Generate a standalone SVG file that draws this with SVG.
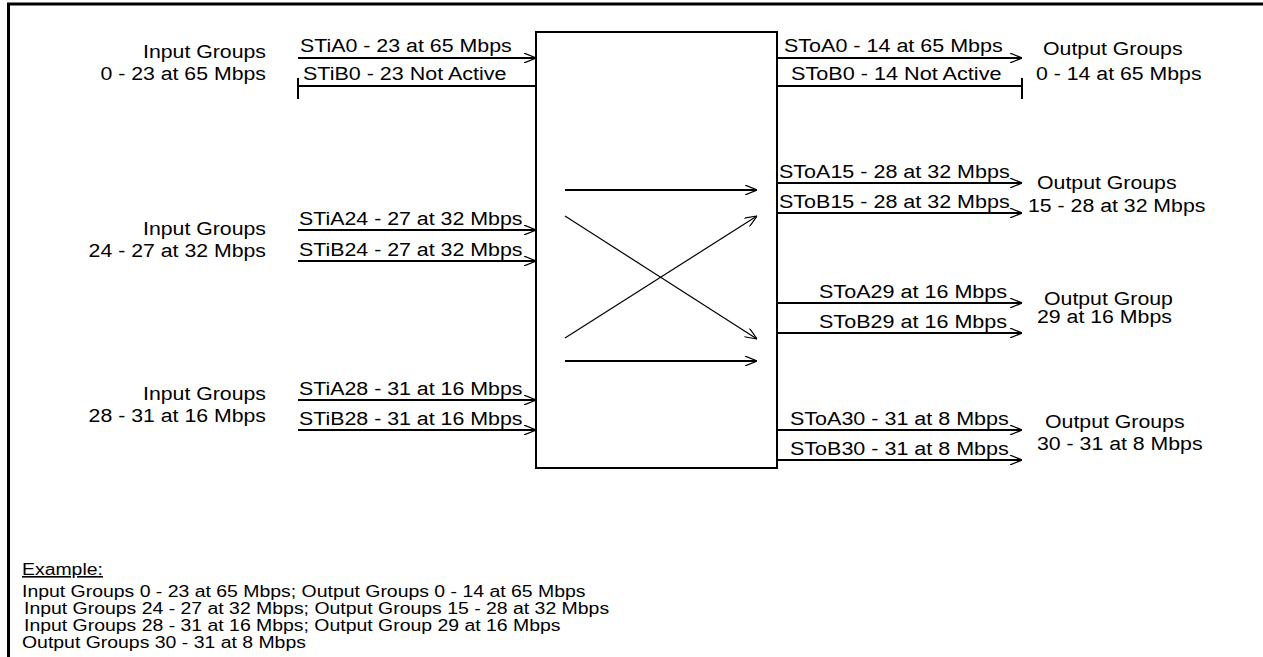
<svg xmlns="http://www.w3.org/2000/svg" width="1263" height="657" viewBox="0 0 1263 657">
<style>
.t{font-family:"Liberation Sans",Arial,sans-serif;font-size:18px;fill:#000}
.s{font-family:"Liberation Sans",Arial,sans-serif;font-size:16px;fill:#000}
.ln{stroke:#000;stroke-width:2;fill:none}
.th{stroke:#000;stroke-width:1.2;fill:none}
</style>
<defs>
<marker id="ah" viewBox="0 0 12 10" refX="12" refY="5" markerWidth="12" markerHeight="10" markerUnits="userSpaceOnUse" orient="auto">
<path d="M0,0 L12,5 L0,10" fill="none" stroke="#000" stroke-width="1.2"/>
</marker>
</defs>
<rect width="1263" height="657" fill="#fff"/>
<path d="M8.5,657 V4 H1263" fill="none" stroke="#000" stroke-width="3"/>

<g id="switch">
<rect x="536" y="32" width="241" height="436" fill="none" stroke="#000" stroke-width="2"/>
</g>

<g id="in-0-23">
<text class="t" x="266" y="58" text-anchor="end" textLength="123" lengthAdjust="spacingAndGlyphs">Input Groups</text>
<text class="t" x="266" y="80" text-anchor="end" textLength="165.6" lengthAdjust="spacingAndGlyphs">0 - 23 at 65 Mbps</text>
</g>
<g id="in-24-27">
<text class="t" x="266" y="235" text-anchor="end" textLength="123" lengthAdjust="spacingAndGlyphs">Input Groups</text>
<text class="t" x="266" y="257" text-anchor="end" textLength="177.4" lengthAdjust="spacingAndGlyphs">24 - 27 at 32 Mbps</text>
</g>
<g id="in-28-31">
<text class="t" x="266" y="400" text-anchor="end" textLength="123" lengthAdjust="spacingAndGlyphs">Input Groups</text>
<text class="t" x="266" y="422" text-anchor="end" textLength="177.4" lengthAdjust="spacingAndGlyphs">28 - 31 at 16 Mbps</text>
</g>

<g id="out-0-14">
<text class="t" x="1043" y="55" textLength="139.6" lengthAdjust="spacingAndGlyphs">Output Groups</text>
<text class="t" x="1036" y="80" textLength="165.6" lengthAdjust="spacingAndGlyphs">0 - 14 at 65 Mbps</text>
</g>
<g id="out-15-28">
<text class="t" x="1037" y="189" textLength="139.6" lengthAdjust="spacingAndGlyphs">Output Groups</text>
<text class="t" x="1028" y="212" textLength="177.4" lengthAdjust="spacingAndGlyphs">15 - 28 at 32 Mbps</text>
</g>
<g id="out-29">
<text class="t" x="1044" y="305" textLength="128.9" lengthAdjust="spacingAndGlyphs">Output Group</text>
<text class="t" x="1037" y="323" textLength="134.9" lengthAdjust="spacingAndGlyphs">29 at 16 Mbps</text>
</g>
<g id="out-30-31">
<text class="t" x="1045" y="428" textLength="139.6" lengthAdjust="spacingAndGlyphs">Output Groups</text>
<text class="t" x="1037" y="450" textLength="165.6" lengthAdjust="spacingAndGlyphs">30 - 31 at 8 Mbps</text>
</g>

<g id="connectors">
<line class="ln" x1="298" y1="58" x2="536" y2="58" marker-end="url(#ah)"/>
<text class="t" x="300" y="52" textLength="211.7" lengthAdjust="spacingAndGlyphs">STiA0 - 23 at 65 Mbps</text>
<line class="ln" x1="298" y1="86" x2="536" y2="86"/>
<line class="ln" x1="298" y1="78" x2="298" y2="99"/>
<text class="t" x="303" y="80" textLength="203.4" lengthAdjust="spacingAndGlyphs">STiB0 - 23 Not Active</text>

<line class="ln" x1="298" y1="230" x2="536" y2="230" marker-end="url(#ah)"/>
<text class="t" x="299" y="225" textLength="223.5" lengthAdjust="spacingAndGlyphs">STiA24 - 27 at 32 Mbps</text>
<line class="ln" x1="298" y1="261" x2="536" y2="261" marker-end="url(#ah)"/>
<text class="t" x="299" y="256" textLength="223.5" lengthAdjust="spacingAndGlyphs">STiB24 - 27 at 32 Mbps</text>

<line class="ln" x1="298" y1="400" x2="536" y2="400" marker-end="url(#ah)"/>
<text class="t" x="299" y="395" textLength="223.5" lengthAdjust="spacingAndGlyphs">STiA28 - 31 at 16 Mbps</text>
<line class="ln" x1="298" y1="430" x2="536" y2="430" marker-end="url(#ah)"/>
<text class="t" x="299" y="425" textLength="223.5" lengthAdjust="spacingAndGlyphs">STiB28 - 31 at 16 Mbps</text>

<line class="ln" x1="565" y1="190" x2="757" y2="190" marker-end="url(#ah)"/>
<line class="th" x1="565" y1="216" x2="757" y2="339" marker-end="url(#ah)"/>
<line class="th" x1="565" y1="338" x2="757" y2="216" marker-end="url(#ah)"/>
<line class="ln" x1="565" y1="361" x2="757" y2="361" marker-end="url(#ah)"/>

<line class="ln" x1="777" y1="58" x2="1022" y2="58" marker-end="url(#ah)"/>
<text class="t" x="784" y="52" textLength="218.8" lengthAdjust="spacingAndGlyphs">SToA0 - 14 at 65 Mbps</text>
<line class="ln" x1="777" y1="86" x2="1022" y2="86"/>
<line class="ln" x1="1022" y1="78" x2="1022" y2="99"/>
<text class="t" x="791" y="80" textLength="210.5" lengthAdjust="spacingAndGlyphs">SToB0 - 14 Not Active</text>

<line class="ln" x1="777" y1="183" x2="1022" y2="183" marker-end="url(#ah)"/>
<text class="t" x="779" y="178" textLength="230.7" lengthAdjust="spacingAndGlyphs">SToA15 - 28 at 32 Mbps</text>
<line class="ln" x1="777" y1="213" x2="1022" y2="213" marker-end="url(#ah)"/>
<text class="t" x="779" y="208" textLength="230.7" lengthAdjust="spacingAndGlyphs">SToB15 - 28 at 32 Mbps</text>

<line class="ln" x1="777" y1="303" x2="1022" y2="303" marker-end="url(#ah)"/>
<text class="t" x="819" y="298" textLength="188.1" lengthAdjust="spacingAndGlyphs">SToA29 at 16 Mbps</text>
<line class="ln" x1="777" y1="333" x2="1022" y2="333" marker-end="url(#ah)"/>
<text class="t" x="819" y="328" textLength="188.1" lengthAdjust="spacingAndGlyphs">SToB29 at 16 Mbps</text>

<line class="ln" x1="777" y1="430" x2="1022" y2="430" marker-end="url(#ah)"/>
<text class="t" x="790" y="425" textLength="218.8" lengthAdjust="spacingAndGlyphs">SToA30 - 31 at 8 Mbps</text>
<line class="ln" x1="777" y1="460" x2="1022" y2="460" marker-end="url(#ah)"/>
<text class="t" x="790" y="455" textLength="218.8" lengthAdjust="spacingAndGlyphs">SToB30 - 31 at 8 Mbps</text>
</g>

<g id="example">
<text class="s" x="22" y="575" textLength="80.9" lengthAdjust="spacingAndGlyphs" text-decoration="underline">Example:</text>
<text class="s" x="22" y="597" textLength="563.5" lengthAdjust="spacingAndGlyphs">Input Groups 0 - 23 at 65 Mbps; Output Groups 0 - 14 at 65 Mbps</text>
<text class="s" x="24" y="614" textLength="585.1" lengthAdjust="spacingAndGlyphs">Input Groups 24 - 27 at 32 Mbps; Output Groups 15 - 28 at 32 Mbps</text>
<text class="s" x="24" y="631" textLength="536.5" lengthAdjust="spacingAndGlyphs">Input Groups 28 - 31 at 16 Mbps; Output Group 29 at 16 Mbps</text>
<text class="s" x="22" y="648" textLength="283.9" lengthAdjust="spacingAndGlyphs">Output Groups 30 - 31 at 8 Mbps</text>
</g>
</svg>
